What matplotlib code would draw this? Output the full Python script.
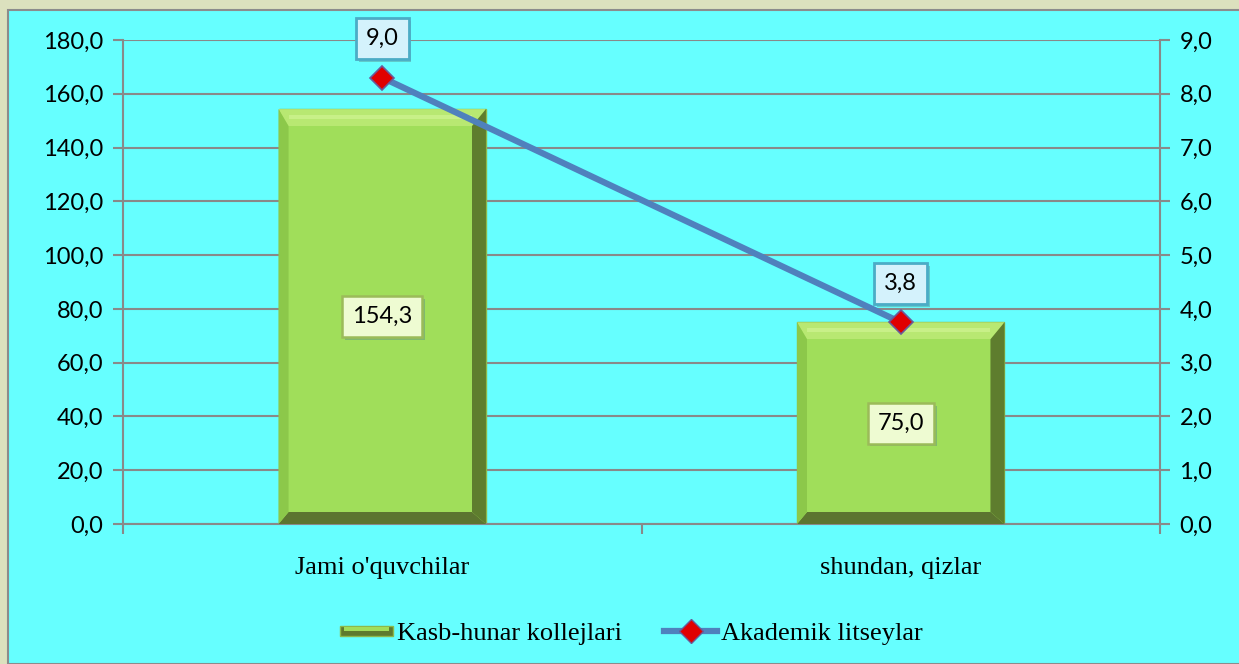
import matplotlib
matplotlib.use("Agg")
import matplotlib.pyplot as plt
from matplotlib.patches import Rectangle, Polygon
from matplotlib.lines import Line2D
from matplotlib.legend_handler import HandlerBase
import matplotlib.patheffects as pe

categories = ["Jami o'quvchilar", "shundan, qizlar"]
kasb_values = [154.3, 75.0]
akad_values = [8.3, 3.75]
akad_labels = ["9,0", "3,8"]
kasb_labels = ["154,3", "75,0"]
left_ticks = [0, 20, 40, 60, 80, 100, 120, 140, 160, 180]
right_ticks = [0, 1, 2, 3, 4, 5, 6, 7, 8, 9]
series_names = ["Kasb-hunar kollejlari", "Akademik litseylar"]

W, H = 1239, 664
fig = plt.figure(figsize=(W / 100, H / 100), dpi=100)
fig.patch.set_facecolor("#DCE1BE")
fig.add_artist(Rectangle((8 / W, 0), 1.0, 1 - 10 / H, transform=fig.transFigure,
                         facecolor="#66FFFF", edgecolor="#8C8C8C", lw=1.5, zorder=0))

ax = fig.add_axes([123 / W, 140 / H, 1037 / W, 484 / H])
ax.set_facecolor("none")
ax2 = ax.twinx()

GRAY = "#898989"
tickfont = dict(family="Lato", size=17)
x = [0.5 + i for i in range(len(categories))]
bw = 0.4

ax.set_xlim(0, len(categories))
ax.set_ylim(0, 180)
ax2.set_ylim(0, 9)
ax.set_yticks(left_ticks)
ax.set_yticklabels([f"{v:.1f}".replace(".", ",") for v in left_ticks], fontdict=tickfont)
ax2.set_yticks(right_ticks)
ax2.set_yticklabels([f"{v:.1f}".replace(".", ",") for v in right_ticks], fontdict=tickfont)
ax.set_xticks(range(len(categories) + 1))
ax.set_xticklabels([])
ax.set_xticks(x, minor=True)
ax.set_xticklabels(categories, minor=True, family="Liberation Serif", size=19)
ax.tick_params(axis="x", which="minor", length=0, pad=24)
ax.tick_params(axis="x", which="major", length=7, color=GRAY, direction="out", width=1.5)
ax.tick_params(axis="y", length=7, color=GRAY, pad=7, width=1.5)
ax2.tick_params(axis="y", length=7, color=GRAY, pad=7, width=1.5)
ax.yaxis.grid(True, color=GRAY, lw=1.5)
ax.set_axisbelow(True)
for a in (ax, ax2):
    for s in a.spines.values():
        s.set_visible(False)
for a, side in ((ax, "left"), (ax, "bottom"), (ax2, "right")):
    a.spines[side].set_visible(True)
    a.spines[side].set_color(GRAY)
    a.spines[side].set_linewidth(1.5)

bars = ax.bar(x, kasb_values, width=bw, color="#A0DE5A", edgecolor="#8DB84A", lw=1, zorder=2)

# bevel decoration (pixel sizes converted to data units)
px_x = len(categories) / 1037.0
px_y = 180 / 484.0
bt, bb, bl, br = 17, 12, 10, 14
for b in bars:
    x0, x1 = b.get_x(), b.get_x() + b.get_width()
    y0, y1 = 0, b.get_height()
    ix0, ix1 = x0 + bl * px_x, x1 - br * px_x
    iy0, iy1 = y0 + bb * px_y, y1 - bt * px_y
    polys = [
        ([(x0, y1), (x1, y1), (ix1, iy1), (ix0, iy1)], "#B8E872"),
        ([(x0, y0), (x1, y0), (ix1, iy0), (ix0, iy0)], "#5C7530"),
        ([(x0, y0), (x0, y1), (ix0, iy1), (ix0, iy0)], "#8CC84A"),
        ([(x1, y0), (x1, y1), (ix1, iy1), (ix1, iy0)], "#5E7D2E"),
    ]
    for pts, c in polys:
        ax.add_patch(Polygon(pts, closed=True, facecolor=c, edgecolor="none", zorder=3))
    ax.add_patch(Rectangle((ix0, iy0), ix1 - ix0, iy1 - iy0, facecolor="#A0DE5A",
                           edgecolor="none", zorder=3))
    ax.add_patch(Rectangle((ix0, y1 - 10 * px_y), ix1 - ix0, 4 * px_y, facecolor="#C8F088",
                           edgecolor="none", zorder=3))

shadow = [pe.SimplePatchShadow(offset=(2, -2), shadow_rgbFace="#5A8A8A", alpha=0.45), pe.Normal()]

for xi, v, lab in zip(x, kasb_values, kasb_labels):
    a = ax.annotate(lab, (xi, v / 2), ha="center", va="center", family="Lato", size=17, zorder=6,
                    bbox=dict(boxstyle="square,pad=0.42", fc="#EEFBD2", ec="#9BBB59", lw=1.8))
    a.get_bbox_patch().set_path_effects(shadow)

ax2.plot(x, akad_values, color="#4F81BD", lw=4.5, zorder=4,
         marker="D", ms=12, mfc="#E00000", mec="#6A5A9A", mew=1.2)
for xi, v, lab in zip(x, akad_values, akad_labels):
    a = ax2.annotate(lab, (xi, v), xytext=(0, 28), textcoords="offset points", ha="center",
                     va="center", family="Lato", size=17, zorder=6,
                     bbox=dict(boxstyle="square,pad=0.42", fc="#D4F2FC", ec="#4BACC6", lw=2))
    a.get_bbox_patch().set_path_effects(shadow)
ax2.set_zorder(ax.get_zorder() + 1)


class BevelHandler(HandlerBase):
    def create_artists(self, legend, orig, xd, yd, width, height, fontsize, trans):
        r1 = Rectangle((xd, yd + height * 0.2), width, height * 0.55, facecolor="#5E7A2E",
                       edgecolor="#8DB84A", transform=trans)
        r2 = Rectangle((xd + 3, yd + height * 0.45), width - 6, height * 0.25,
                       facecolor="#A0DE5A", edgecolor="none", transform=trans)
        return [r1, r2]


h1 = Rectangle((0, 0), 1, 1)
h2 = Line2D([], [], color="#4F81BD", lw=4.5, marker="D", ms=12, mfc="#E00000", mec="#6A5A9A")
fig.legend([h1, h2], series_names, handler_map={h1: BevelHandler()},
           loc="center", bbox_to_anchor=(631.5 / W, 1 - 633 / H), ncol=2, frameon=False,
           prop=dict(family="Liberation Serif", size=19), handlelength=2.0,
           handletextpad=0.15, columnspacing=1.6)

fig.savefig("out.png", dpi=100, facecolor=fig.get_facecolor())
